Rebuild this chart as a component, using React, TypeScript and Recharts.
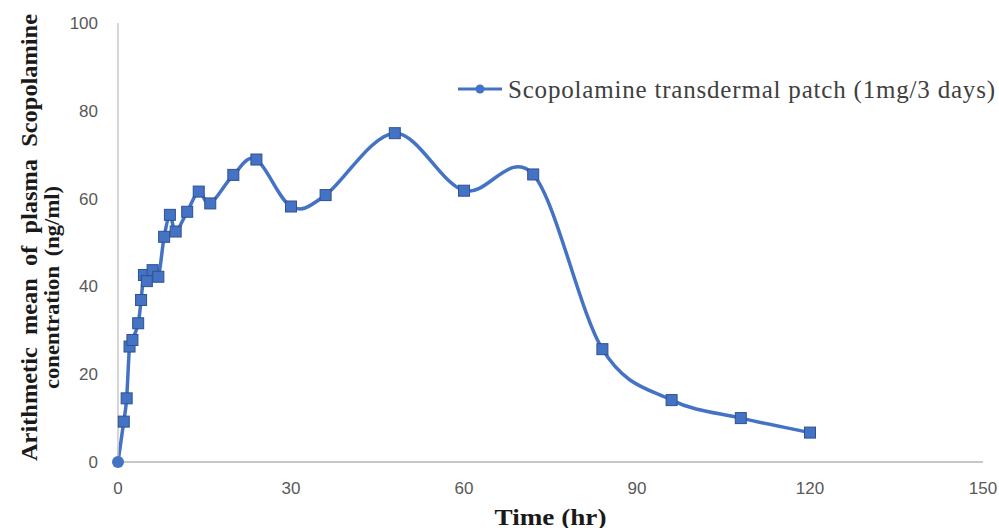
import { LineChart, Line, XAxis, YAxis, Legend } from 'recharts';

// sampling times (hr) and mean plasma concentration (ng/ml)
const hours = [0, 1, 1.5, 2, 2.5, 3.5, 4, 4.5, 5, 6, 7, 8, 9, 10, 12, 14, 16, 20, 24, 30, 36, 48, 60, 72, 84, 96, 108, 120];
const concentration = [
  0, 9.2, 14.5, 26.3, 27.8, 31.6, 36.9, 42.6, 41.2, 43.7, 42.2, 51.3, 56.3, 52.5, 57, 61.6, 58.9, 65.4, 68.9,
  58.2, 60.8, 74.9, 61.8, 65.5, 25.7, 14.1, 10, 6.7,
];
const xTicks = [0, 30, 60, 90, 120, 150];
const yTicks = [0, 20, 40, 60, 80, 100];
const seriesName = 'Scopolamine transdermal patch (1mg/3 days)';

const data = hours.map((h, i) => ({ time: h, conc: concentration[i] }));

const BLUE = '#4472C4';
const SERIF = "'Liberation Serif', 'Times New Roman', serif";

// Excel-style smoothed line (Catmull-Rom through every point)
function excelSmooth(context: any) {
  let pts: number[][] = [];
  return {
    areaStart() {},
    areaEnd() {},
    lineStart() {
      pts = [];
    },
    point(x: number, y: number) {
      pts.push([+x, +y]);
    },
    lineEnd() {
      const n = pts.length;
      if (!n) return;
      context.moveTo(pts[0][0], pts[0][1]);
      for (let i = 0; i < n - 1; i++) {
        const p0 = pts[i - 1] || pts[i];
        const p1 = pts[i];
        const p2 = pts[i + 1];
        const p3 = pts[i + 2] || p2;
        context.bezierCurveTo(
          p1[0] + (p2[0] - p0[0]) / 6,
          p1[1] + (p2[1] - p0[1]) / 6,
          p2[0] - (p3[0] - p1[0]) / 6,
          p2[1] - (p3[1] - p1[1]) / 6,
          p2[0],
          p2[1],
        );
      }
    },
  };
}

const renderMarker = (props: any) => {
  const { cx, cy, index } = props;
  if (index === 0) {
    return <circle key={`m-${index}`} cx={cx} cy={cy} r={6} fill={BLUE} />;
  }
  return (
    <rect key={`m-${index}`} x={cx - 5.5} y={cy - 5.5} width={11} height={11} fill={BLUE} stroke="#2F528F" strokeWidth={1} />
  );
};

const renderLegend = () => (
  <svg width={545} height={40}>
    <line x1={3} y1={19} x2={47} y2={19} stroke={BLUE} strokeWidth={3} />
    <circle cx={25} cy={19} r={4.5} fill={BLUE} />
    <text
      x={53}
      y={19}
      dominantBaseline="central"
      fontFamily={SERIF}
      fontSize={25}
      fill="#404040"
      textLength={487}
      lengthAdjust="spacing"
    >
      {seriesName}
    </text>
  </svg>
);

const yLabel = (props: any) => {
  const { viewBox } = props;
  const cy = viewBox.y + viewBox.height / 2;
  const font = { fontFamily: SERIF, fontWeight: 'bold' as const, fontSize: 24, fill: '#1a1a1a' };
  return (
    <g>
      <text
        x={29}
        y={cy - 5}
        transform={`rotate(-90, 29, ${cy - 5})`}
        textAnchor="middle"
        dominantBaseline="central"
        style={{ wordSpacing: '6px' }}
        textLength={447}
        lengthAdjust="spacingAndGlyphs"
        {...font}
      >
        Arithmetic mean of plasma Scopolamine
      </text>
      <text
        x={51}
        y={cy + 45}
        transform={`rotate(-90, 51, ${cy + 45})`}
        textAnchor="middle"
        dominantBaseline="central"
        style={{ wordSpacing: '4px' }}
        textLength={203}
        lengthAdjust="spacingAndGlyphs"
        {...font}
        fontSize={22}
      >
        conentration (ng/ml)
      </text>
    </g>
  );
};

const xLabel = (props: any) => {
  const { viewBox } = props;
  return (
    <text
      x={viewBox.x + viewBox.width / 2}
      y={viewBox.y + 55}
      textAnchor="middle"
      dominantBaseline="central"
      fontFamily={SERIF}
      fontWeight="bold"
      fontSize={23}
      fill="#1a1a1a"
      textLength={112}
      lengthAdjust="spacingAndGlyphs"
    >
      Time (hr)
    </text>
  );
};

export default function App() {
  const tickStyle = { fontFamily: "'Liberation Sans', Arial, sans-serif", fontSize: 17, fill: '#595959' };
  return (
    <div style={{ position: 'absolute', left: 0, top: 0, width: 999, height: 528, background: '#fff' }}>
      <LineChart width={999} height={528} data={data} margin={{ top: 23, right: 16, left: 0, bottom: 0 }}>
        <XAxis
          dataKey="time"
          type="number"
          domain={[0, 150]}
          ticks={xTicks}
          height={66}
          tickSize={0}
          tickMargin={20}
          tick={tickStyle}
          axisLine={{ stroke: '#c8c8c8', strokeWidth: 2 }}
          label={{ content: xLabel }}
        />
        <YAxis
          type="number"
          domain={[0, 100]}
          ticks={yTicks}
          width={118}
          tickSize={0}
          tickMargin={20}
          tick={tickStyle}
          axisLine={{ stroke: '#c8c8c8', strokeWidth: 1.5 }}
          label={{ content: yLabel }}
        />
        <Legend
          layout="horizontal"
          verticalAlign="middle"
          align="center"
          content={renderLegend}
          wrapperStyle={{ top: 70, left: 455, width: 545, height: 40 }}
        />
        <Line
          dataKey="conc"
          name={seriesName}
          type={excelSmooth as any}
          stroke={BLUE}
          strokeWidth={3.5}
          dot={renderMarker}
          activeDot={false}
          isAnimationActive={false}
        />
      </LineChart>
    </div>
  );
}
